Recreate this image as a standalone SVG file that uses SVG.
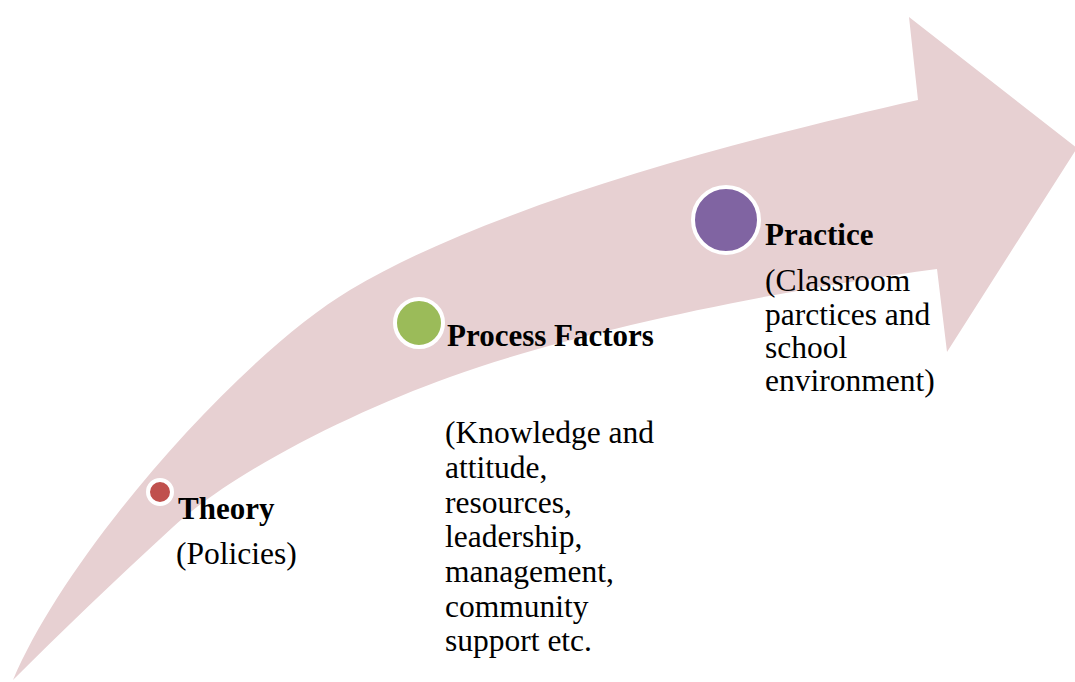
<svg xmlns="http://www.w3.org/2000/svg" width="1075" height="682" viewBox="0 0 1075 682">
<style>
.arrow{fill:#E7D0D2;stroke:none}
.dot{stroke:#FFFFFF;stroke-width:4}
text{font-family:'Liberation Serif','Times New Roman',serif;fill:#000000}
.b{font-weight:bold;font-size:31px}
.r{font-size:31.5px}
</style>
<rect width="1075" height="682" fill="#FFFFFF"/>
<g id="connectors">
<path class="arrow" d="M13,680 C68,550 240,356 350,290 C500,200 768,134 918,100 L909,17 L1077,148 L947,352 L937,269 C780,290 580,330 450,377 C350,413 233,472 173,527 C113,582 60,633 13,680 Z"/>
</g>
<g id="theory">
<circle class="dot" cx="160" cy="492" r="12" fill="#C0504D"/>
<text class="b" x="178" y="519">Theory</text>
<text class="r" x="176" y="564">(Policies)</text>
</g>
<g id="process">
<circle class="dot" cx="419" cy="323" r="24" fill="#9BBB59"/>
<text class="b" x="447" y="346">Process Factors</text>
<text class="r" x="445" y="443">(Knowledge and</text>
<text class="r" x="445" y="478">attitude,</text>
<text class="r" x="445" y="513">resources,</text>
<text class="r" x="445" y="547">leadership,</text>
<text class="r" x="445" y="582">management,</text>
<text class="r" x="445" y="617">community</text>
<text class="r" x="445" y="651">support etc.</text>
</g>
<g id="practice">
<circle class="dot" cx="726" cy="220" r="33" fill="#8064A2"/>
<text class="b" x="765" y="245">Practice</text>
<text class="r" x="765" y="291">(Classroom</text>
<text class="r" x="765" y="325">parctices and</text>
<text class="r" x="765" y="358">school</text>
<text class="r" x="765" y="391">environment)</text>
</g>
</svg>
